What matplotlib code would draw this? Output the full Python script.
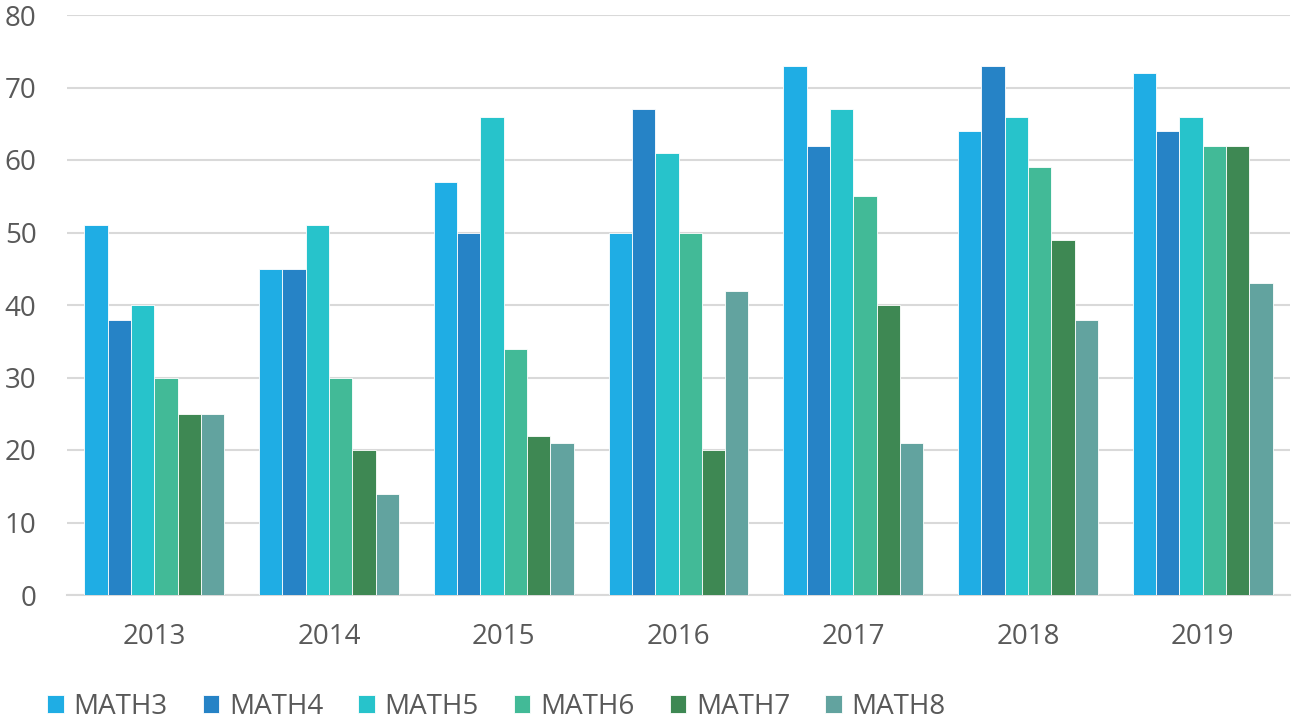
import matplotlib
matplotlib.use("Agg")
import matplotlib.pyplot as plt
import numpy as np

years = ["2013", "2014", "2015", "2016", "2017", "2018", "2019"]
series_names = ["MATH3", "MATH4", "MATH5", "MATH6", "MATH7", "MATH8"]
math3 = [51, 45, 57, 50, 73, 64, 72]
math4 = [38, 45, 50, 67, 62, 73, 64]
math5 = [40, 51, 66, 61, 67, 66, 66]
math6 = [30, 30, 34, 50, 55, 59, 62]
math7 = [25, 20, 22, 20, 40, 49, 62]
math8 = [25, 14, 21, 42, 21, 38, 43]
colors = ["#1FADE4", "#2683C6", "#27C3CB", "#42BA97", "#3E8853", "#62A39F"]

plt.rcParams['font.family'] = ['Open Sans', 'DejaVu Sans']

fig = plt.figure(figsize=(12.96, 7.21), dpi=100)
ax = fig.add_axes([67/1296, 1-595/721, (1290-67)/1296, (595-15)/721])

all_series = [math3, math4, math5, math6, math7, math8]
x = np.arange(len(years))
n = len(all_series)
group_w = 0.8
bw = group_w / n
for i, (name, vals, c) in enumerate(zip(series_names, all_series, colors)):
    ax.bar(x - group_w/2 + bw*(i+0.5), vals, width=bw, color=c, label=name,
           edgecolor="white", linewidth=0.6, zorder=3)

ax.set_xlim(-0.5, len(years)-0.5)
ax.set_ylim(0, 80)
ax.set_yticks(range(0, 81, 10))
ax.set_xticks(x)
ax.set_xticklabels(years)
ax.yaxis.grid(True, color="#D9D9D9", linewidth=1.5, zorder=0)
for s in ["top", "right", "left"]:
    ax.spines[s].set_visible(False)
ax.spines["bottom"].set_color("#D9D9D9")
ax.spines["bottom"].set_linewidth(1.5)
ax.tick_params(axis="both", length=0, labelsize=20, colors="#595959")
ax.tick_params(axis="y", pad=22)
ax.tick_params(axis="x", pad=20)

leg = fig.legend(loc="center left", bbox_to_anchor=(47/1296, 1-707/721), ncol=6, frameon=False,
                 fontsize=20, handlelength=0.6, handleheight=0.6, handletextpad=0.35,
                 columnspacing=1.26, borderpad=0, borderaxespad=0, labelcolor="#595959")

fig.savefig("out.png", dpi=100)
